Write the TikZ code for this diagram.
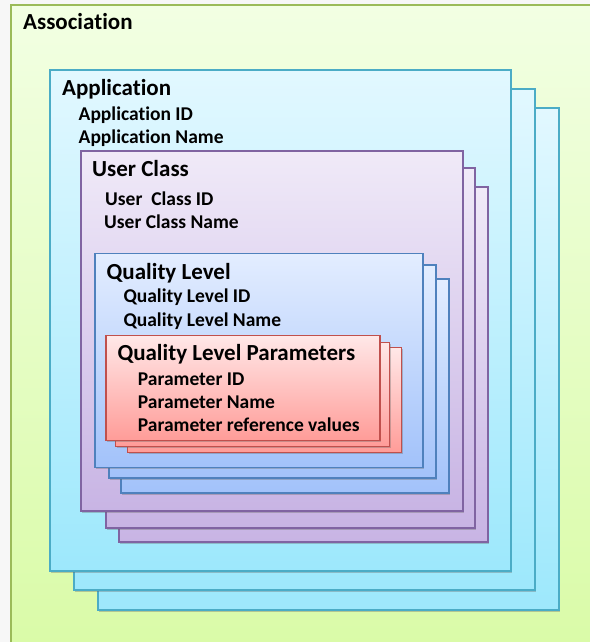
\documentclass[tikz,border=0pt]{standalone}
\usepackage{fontspec}
\setmainfont{Carlito}[Ligatures=NoCommon]
\usetikzlibrary{shadows}
\definecolor{grnT}{HTML}{F2FFE3}
\definecolor{grnB}{HTML}{D9FBA6}
\definecolor{grnD}{HTML}{9BBB59}
\definecolor{cyT}{HTML}{E2F8FF}
\definecolor{cyB}{HTML}{9DE8FC}
\definecolor{cyD}{HTML}{4BACC6}
\definecolor{puT}{HTML}{F0EAF8}
\definecolor{puB}{HTML}{C8B4E4}
\definecolor{puD}{HTML}{8064A2}
\definecolor{blT}{HTML}{E3EDFF}
\definecolor{blB}{HTML}{A2C2FA}
\definecolor{blD}{HTML}{4F81BD}
\definecolor{rdT}{HTML}{FFE8E8}
\definecolor{rdB}{HTML}{FF9C98}
\definecolor{rdD}{HTML}{C0504D}
\tikzset{
  box/.style={rectangle, anchor=north west, inner sep=0pt, outer sep=0pt, line width=1.3bp},
  shad/.style={drop shadow={shadow xshift=1.2bp, shadow yshift=-1.8bp, opacity=0.35, fill=black!60}},
  assocbox/.style={box, draw=grnD, top color=grnT, bottom color=grnB},
  appbox/.style={box, shad, draw=cyD, top color=cyT, bottom color=cyB},
  ucbox/.style={box, shad, draw=puD, top color=puT, bottom color=puB},
  qlbox/.style={box, shad, draw=blD, top color=blT, bottom color=blB},
  qlpbox/.style={box, shad, draw=rdD, top color=rdT, bottom color=rdB},
  ttl/.style={anchor=base west, inner sep=0pt, font=\bfseries\fontsize{23bp}{27bp}\selectfont},
  sub/.style={anchor=base west, inner sep=0pt, font=\bfseries\fontsize{19.5bp}{23bp}\selectfont},
}
\begin{document}
\begin{tikzpicture}[x=1bp,y=-1bp]
\useasboundingbox (0,0) rectangle (590,642);
\clip (0,0) rectangle (590,642);
\fill[white!97!black] (0,0) rectangle (590,642);
% Association
\node[assocbox, minimum width=600bp, minimum height=660bp] (assoc) at (11,5) {};
\node[ttl] (assocT) at (23,30) {Association};
% Application stack
\node[appbox, minimum width=461bp, minimum height=502bp] (app3) at (98,108) {};
\node[appbox, minimum width=461bp, minimum height=501bp] (app2) at (74,89) {};
\node[appbox, minimum width=461bp, minimum height=501bp] (app1) at (50,70) {};
\node[ttl] (appT) at (62,96) {Application};
\node[sub] (appID) at (78.5,120.5) {Application ID};
\node[sub] (appNm) at (78.5,144) {Application Name};
% User class stack
\node[ucbox, minimum width=369bp, minimum height=355bp] (uc3) at (119,187) {};
\node[ucbox, minimum width=369bp, minimum height=360bp] (uc2) at (106,168) {};
\node[ucbox, minimum width=382bp, minimum height=360bp] (uc1) at (81,151) {};
\node[ttl] (ucT) at (92,176.5) {User Class};
\node[sub] (ucID) at (105,205) {User\ \ Class ID};
\node[sub] (ucNm) at (104,228.5) {User Class Name};
% Quality level stack
\node[qlbox, minimum width=328bp, minimum height=214bp] (ql3) at (121,279) {};
\node[qlbox, minimum width=327bp, minimum height=213bp] (ql2) at (109,265) {};
\node[qlbox, minimum width=328bp, minimum height=214bp] (ql1) at (95,253.5) {};
\node[ttl] (qlT) at (106.5,279) {Quality Level};
\node[sub] (qlID) at (123.3,302.7) {Quality Level ID};
\node[sub] (qlNm) at (123.3,326.5) {Quality Level Name};
% Quality level parameters stack
\node[qlpbox, minimum width=274bp, minimum height=105bp] (qlp3) at (127.7,347.3) {};
\node[qlpbox, minimum width=274bp, minimum height=104bp] (qlp2) at (115.7,342.3) {};
\node[qlpbox, minimum width=274bp, minimum height=105bp] (qlp1) at (106,335.3) {};
\node[ttl] (qlpT) at (117.3,360) {Quality Level Parameters};
\node[sub] (pID) at (137.7,385) {Parameter ID};
\node[sub] (pNm) at (137.7,408.3) {Parameter Name};
\node[sub] (pRef) at (137.7,431.7) {Parameter reference values};
\end{tikzpicture}
\end{document}
